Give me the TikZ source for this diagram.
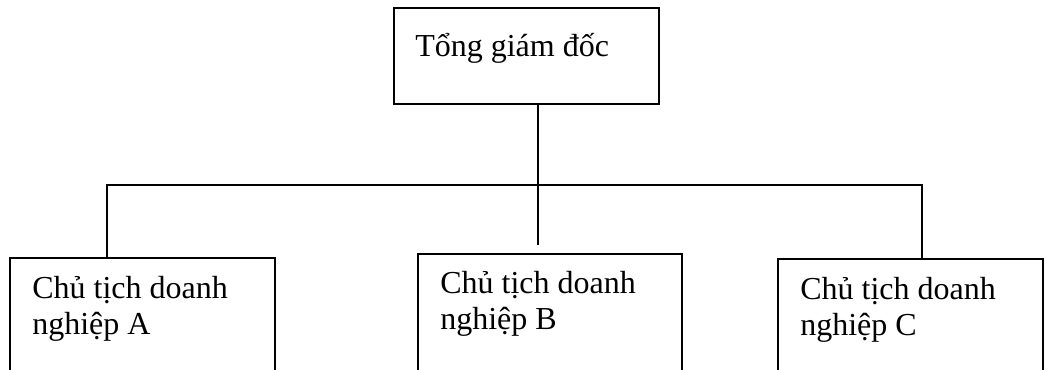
\documentclass[tikz,border=0pt]{standalone}
\usepackage{fontspec}
\setmainfont{Liberation Serif}
\begin{document}
\begin{tikzpicture}[x=0.75pt,y=-0.75pt,
  conn/.style={draw=black,line width=1pt},
  boxnode/.style={draw=black,line width=1pt,rectangle,inner sep=0pt,outer sep=0pt,minimum width=198.75pt},
  label/.style={anchor=base west,inner sep=0pt,font=\fontsize{24}{27}\selectfont,align=left}]
\useasboundingbox (0,0) rectangle (1045,370);
\begin{scope}
\clip (0,0) rectangle (1045,370);
\node[boxnode,minimum height=72pt] (top) at (526.5,56) {};
\node[boxnode,minimum height=106.5pt] (boxA) at (142.5,329) {};
\node[boxnode,minimum width=198pt,minimum height=109.5pt] (boxB) at (550,327) {};
\node[boxnode,minimum height=105.75pt] (boxC) at (910.5,329.5) {};
\node[label] (tTop) at (415,57) {Tổng giám đốc};
\node[label] (tA) at (32,334) {Chủ tịch doanh\\nghiệp A};
\node[label] (tB) at (440,329) {Chủ tịch doanh\\nghiệp B};
\node[label] (tC) at (800,335) {Chủ tịch doanh\\nghiệp C};
\coordinate (stem) at (538,104);
\coordinate (busA) at (107,185);
\coordinate (busB) at (538,185);
\coordinate (busC) at (922,185);
\coordinate (endB) at (538,245);
\draw[conn] (stem) -- (busB) -- (endB);
\draw[conn] (busA |- boxA.north) -- (busA) -- (busC) -- (busC |- boxC.north);
\end{scope}
\end{tikzpicture}
\end{document}
